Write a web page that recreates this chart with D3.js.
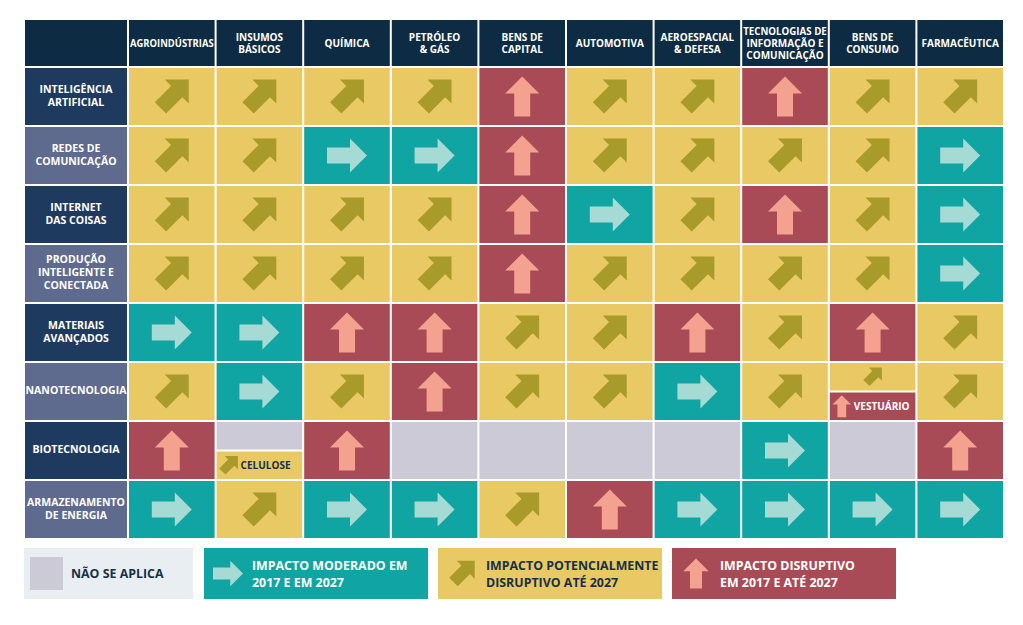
<!DOCTYPE html>
<html>
<head>
<meta charset="utf-8">
<script src="https://cdn.jsdelivr.net/npm/d3@7"></script>
<style>
  html, body { margin: 0; padding: 0; background: #ffffff; }
  svg { display: block; font-family: "Open Sans", "Noto Sans", sans-serif; font-weight: 700; }
</style>
</head>
<body>
<svg id="chart" width="1023" height="625"></svg>
<script>
// ---------- DATA ----------
const sectors = [
  "AGROINDÚSTRIAS", "INSUMOS|BÁSICOS", "QUÍMICA", "PETRÓLEO|& GÁS", "BENS DE|CAPITAL",
  "AUTOMOTIVA", "AEROESPACIAL|& DEFESA", "TECNOLOGIAS DE|INFORMAÇÃO E|COMUNICAÇÃO",
  "BENS DE|CONSUMO", "FARMACÊUTICA"
];
const technologies = [
  "INTELIGÊNCIA|ARTIFICIAL", "REDES DE|COMUNICAÇÃO", "INTERNET|DAS COISAS",
  "PRODUÇÃO|INTELIGENTE E|CONECTADA", "MATERIAIS|AVANÇADOS", "NANOTECNOLOGIA",
  "BIOTECNOLOGIA", "ARMAZENAMENTO|DE ENERGIA"
];
// Impact codes: M = moderado, P = potencialmente disruptivo, D = disruptivo, N = não se aplica, S = dividido
const impactRows = [
  ["P","P","P","P","D","P","P","D","P","P"],
  ["P","P","M","M","D","P","P","P","P","M"],
  ["P","P","P","P","D","M","P","D","P","M"],
  ["P","P","P","P","D","P","P","P","P","M"],
  ["M","M","D","D","P","P","D","P","D","P"],
  ["P","M","P","D","P","P","M","P","S","P"],
  ["D","S","D","N","N","N","N","M","N","D"],
  ["M","P","M","M","P","D","M","M","M","M"]
];
const splitTech   = ["NANOTECNOLOGIA", "BIOTECNOLOGIA"];
const splitSector = ["BENS DE|CONSUMO", "INSUMOS|BÁSICOS"];
const splitTop    = ["P", "N"];
const splitBottom = ["D", "P"];
const splitLabel  = ["VESTUÁRIO", "CELULOSE"];

const legendCodes  = ["N", "M", "P", "D"];
const legendLabels = [
  ["NÃO SE APLICA"],
  ["IMPACTO MODERADO EM", "2017 E EM 2027"],
  ["IMPACTO POTENCIALMENTE", "DISRUPTIVO ATÉ 2027"],
  ["IMPACTO DISRUPTIVO", "EM 2017 E ATÉ 2027"]
];

// ---------- STYLE ----------
const fill  = { M: "#10a4a2", P: "#e9c964", D: "#a84b57", N: "#cbcad6" };
const arrowFill = { M: "#a6dad5", P: "#a89b2b", D: "#f4a18f" };
const textFill  = { M: "#ffffff", P: "#15304a", D: "#ffffff", N: "#15304a" };
const headerFill = "#0d2b42";
const labelFills = ["#1f3a5f", "#5f6a8f"];

const svg = d3.select("#chart");

const x = d3.scaleBand().domain(sectors).range([128, 1004]);
const y = d3.scaleBand().domain(technologies).range([67, 539]);
const gap = 1;

// arrow shape, pointing right, centered at origin
const arrowPath = "M-20,-8L3,-8L3,-17L20,0L3,17L3,8L-20,8Z";
function arrowTransform(code, cx, cy, s) {
  if (code === "M") return `translate(${cx},${cy}) scale(${s})`;
  if (code === "D") return `translate(${cx},${cy}) scale(${s}) rotate(-90)`;
  return `translate(${cx + 2.8 * s},${cy - 2.8 * s}) scale(${s}) rotate(-45)`;
}
function drawArrow(g, code, cx, cy, s) {
  if (!arrowFill[code]) return;
  g.append("path").attr("d", arrowPath)
    .attr("fill", arrowFill[code])
    .attr("transform", arrowTransform(code, cx, cy, s));
}

function multiline(g, str, cx, cy, size, lh, color) {
  const lines = str.split("|");
  const t = g.append("text").attr("text-anchor", "middle")
    .attr("font-size", size).attr("fill", color);
  lines.forEach((ln, i) => {
    t.append("tspan").attr("x", cx)
      .attr("y", cy + (i - (lines.length - 1) / 2) * lh + size * 0.36)
      .text(ln);
  });
  return t;
}

// ---------- HEADER ----------
const header = svg.append("g");
header.append("rect").attr("x", 25).attr("y", 20).attr("width", 102).attr("height", 46).attr("fill", headerFill);
sectors.forEach(s => {
  header.append("rect").attr("x", x(s) + gap).attr("y", 20)
    .attr("width", x.bandwidth() - 2 * gap).attr("height", 46).attr("fill", headerFill);
  const t = multiline(header, s, x(s) + x.bandwidth() / 2, 43, 10, 12, "#ffffff");
  t.selectAll("tspan").each(function () {
    const len = this.getComputedTextLength();
    if (len > x.bandwidth() - 4) {
      d3.select(this).attr("textLength", x.bandwidth() - 4).attr("lengthAdjust", "spacingAndGlyphs");
    }
  });
});

// ---------- ROW LABELS ----------
const labels = svg.append("g");
technologies.forEach((t, i) => {
  labels.append("rect").attr("x", 25).attr("y", y(t) + gap)
    .attr("width", 102).attr("height", y.bandwidth() - 2 * gap)
    .attr("fill", labelFills[i % 2]);
  multiline(labels, t, 76, y(t) + y.bandwidth() / 2 - 1, 10.5, 13, "#ffffff");
});

// ---------- CELLS ----------
const cells = svg.append("g");
technologies.forEach((t, ri) => {
  sectors.forEach((s, ci) => {
    const code = impactRows[ri][ci];
    const cx0 = x(s) + gap, cy0 = y(t) + gap;
    const w = x.bandwidth() - 2 * gap, h = y.bandwidth() - 2 * gap;
    if (code !== "S") {
      cells.append("rect").attr("x", cx0).attr("y", cy0).attr("width", w).attr("height", h).attr("fill", fill[code]);
      drawArrow(cells, code, cx0 + w / 2, cy0 + h / 2, 1);
    } else {
      const k = splitTech.findIndex((st, j) => st === t && splitSector[j] === s);
      const topC = splitTop[k], botC = splitBottom[k];
      const hh = (h - 2) / 2;
      cells.append("rect").attr("x", cx0).attr("y", cy0).attr("width", w).attr("height", hh).attr("fill", fill[topC]);
      drawArrow(cells, topC, cx0 + w / 2, cy0 + hh / 2, 0.55);
      const by = cy0 + hh + 2;
      cells.append("rect").attr("x", cx0).attr("y", by).attr("width", w).attr("height", hh).attr("fill", fill[botC]);
      drawArrow(cells, botC, cx0 + 12, by + hh / 2, 0.55);
      cells.append("text").attr("x", cx0 + 24).attr("y", by + hh / 2 + 3.7)
        .attr("font-size", 10).attr("fill", textFill[botC]).text(splitLabel[k]);
    }
  });
});

// ---------- LEGEND ----------
const legend = svg.append("g");
const legendX = [24, 204, 438, 672];
const legendW = [169, 224, 224, 224];
const legendY = 548, legendH = 51;
legendCodes.forEach((code, i) => {
  const lx = legendX[i];
  legend.append("rect").attr("x", lx).attr("y", legendY).attr("width", legendW[i]).attr("height", legendH)
    .attr("fill", code === "N" ? "#e9eef3" : fill[code]);
  let tx;
  if (code === "N") {
    legend.append("rect").attr("x", lx + 6).attr("y", legendY + 9).attr("width", 33).attr("height", 33).attr("fill", fill.N);
    tx = lx + 47;
  } else {
    drawArrow(legend, code, lx + 24, legendY + legendH / 2, 0.75);
    tx = lx + 48;
  }
  const lines = legendLabels[i];
  const t = legend.append("text").attr("font-size", 12.4)
    .attr("fill", code === "N" ? "#15304a" : textFill[code]);
  lines.forEach((ln, j) => {
    t.append("tspan").attr("x", tx)
      .attr("y", legendY + legendH / 2 + (j - (lines.length - 1) / 2) * 17 + 4.5)
      .text(ln);
  });
});
</script>
</body>
</html>
